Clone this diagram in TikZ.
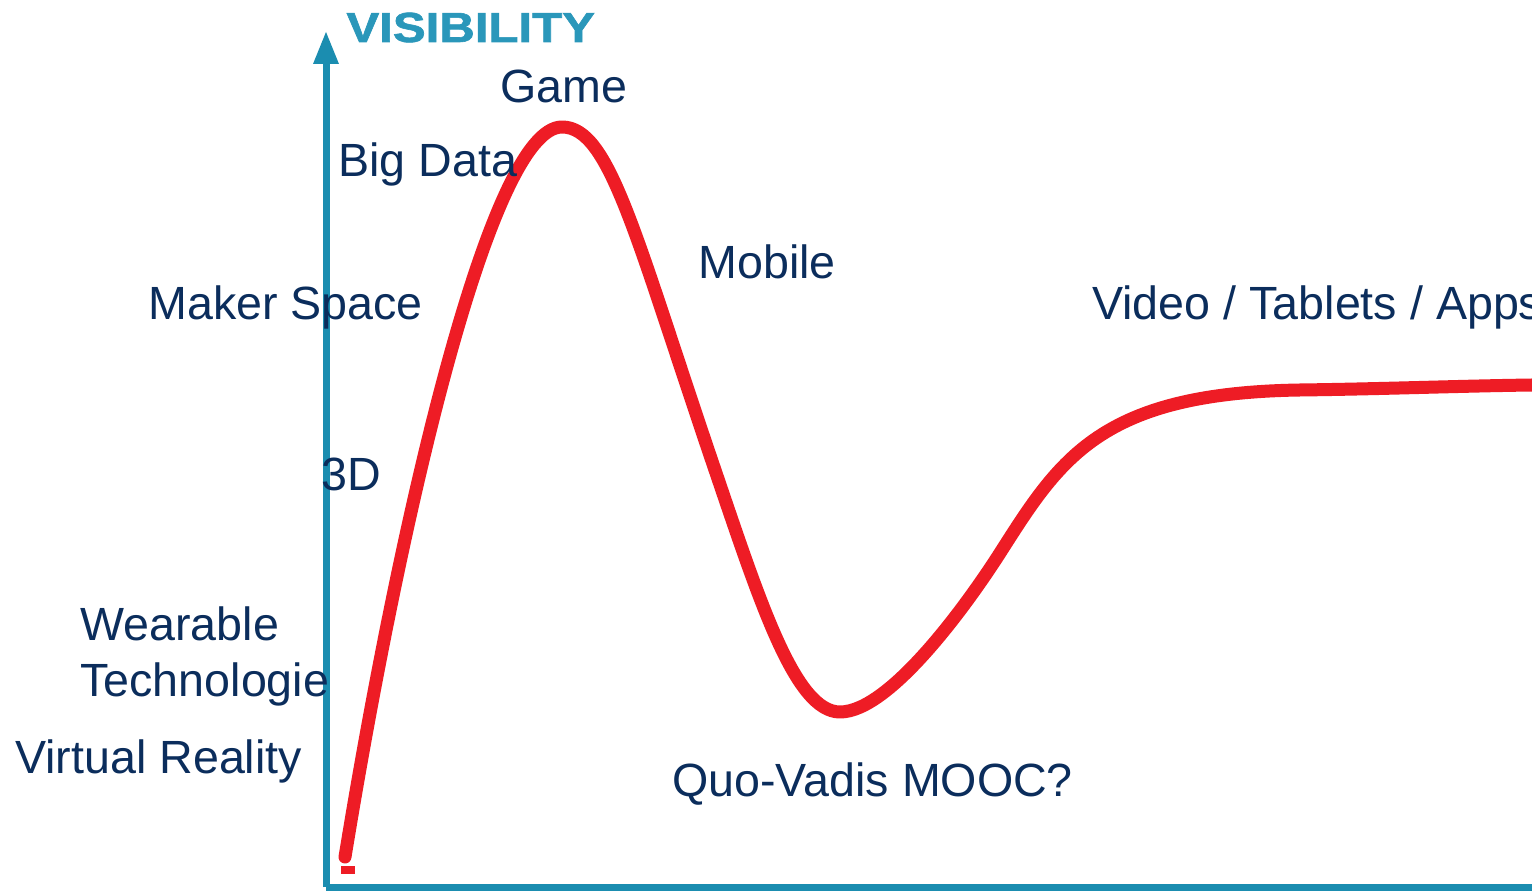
\documentclass[tikz,border=0pt]{standalone}
\usepackage{fontspec}
\setmainfont{Liberation Sans}
\newfontfamily\visfont[FakeBold=1.4]{Liberation Sans}
\begin{document}
\begin{tikzpicture}[x=0.5pt,y=-0.5pt,
  lbl/.style={anchor=base west,inner sep=0pt,text=navy,font=\fontsize{23.3}{27}\selectfont},
  axis/.style={draw=axisteal,line width=3.5pt},
  hype/.style={draw=hypered,line width=6.5pt,line cap=round,line join=round}]
\definecolor{navy}{HTML}{0B2D5C}
\definecolor{axisteal}{HTML}{1B8DB0}
\definecolor{vistext}{HTML}{2A97BA}
\definecolor{hypered}{HTML}{EE1C25}
\useasboundingbox (0,0) rectangle (1532,892);
\fill[white] (0,0) rectangle (1532,892);

% axes
\coordinate (origin) at (326,887);
\coordinate (ytop) at (326,60);
\coordinate (xend) at (1532,887);
\draw[axis] (origin) -- (ytop);
\draw[axis] (origin) -- (xend);
\fill[axisteal] (326,32) -- (339,64) -- (313,64) -- cycle;
\node[anchor=base west,inner sep=0pt,text=vistext,font=\visfont\bfseries\fontsize{21}{24}\selectfont,xscale=1.17] (vis) at (346,42) {VISIBILITY};

% hype curve: rise, peak, trough of disillusionment, plateau
\coordinate (start) at (345,857);
\coordinate (peak) at (562,127);
\coordinate (fall) at (715,470);
\coordinate (trough) at (840,712);
\coordinate (climb) at (1000,553);
\coordinate (knee) at (1300,390);
\coordinate (plateau) at (1532,385);
\draw[hype] (start) .. controls (400,520) and (490,127) .. (peak)
  .. controls (610,127) and (635,235.6) .. (fall)
  .. controls (760,601.9) and (795,712) .. (trough)
  .. controls (890,712) and (968,603) .. (climb)
  .. controls (1060,459) and (1100,393) .. (knee)
  .. controls (1380,389) and (1460,386) .. (plateau);
\draw[hypered,line width=4pt] (341,870) -- (355,870);

% labels
\node[lbl] (game) at (500,103) {Game};
\node[lbl] (bigdata) at (338,177) {Big Data};
\node[lbl] (mobile) at (698,279) {Mobile};
\node[lbl] (maker) at (148,320) {Maker Space};
\node[lbl] (video) at (1092,320) {Video / Tablets / Apps};
\node[lbl] (threed) at (321,491) {3D};
\node[lbl] (wear) at (80,641) {Wearable};
\node[lbl] (tech) at (80,697) {Technologie};
\node[lbl] (vr) at (15,774) {Virtual Reality};
\node[lbl] (mooc) at (672,796) {Quo-Vadis MOOC?};
\end{tikzpicture}
\end{document}
